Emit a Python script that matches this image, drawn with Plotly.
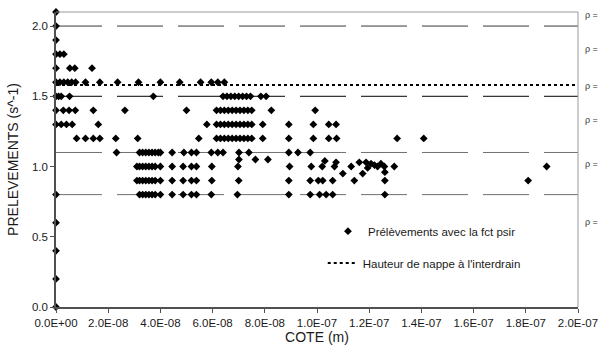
import plotly.graph_objects as go

# ------------ data (x in units of 1e-8 m) ------------
row_210 = [0.0]
row_200 = [0.0]
row_190 = [0.0]
row_180 = [0.0, 0.15, 0.3]
row_170 = [0.0, 0.53, 0.72, 1.38]
row_160 = [0.0, 0.15, 0.3, 0.45, 0.6, 0.75, 1.13, 1.68, 2.36, 3.16, 4.0, 4.74, 5.54, 5.95, 6.2, 6.45]
row_150 = [0.0, 0.1, 0.2, 0.52, 3.73, 6.4, 6.55, 6.7, 6.85, 7.0, 7.15, 7.3, 7.45, 7.85, 8.05]
row_140 = [0.0, 0.28, 0.5, 0.74, 1.43, 2.64, 5.0, 6.15, 6.3, 6.45, 6.6, 6.75, 6.9, 7.05, 7.2, 7.35, 7.5, 8.25, 9.93]
row_130 = [0.0, 0.2, 0.4, 0.62, 1.62, 5.78, 6.15, 6.3, 6.45, 6.6, 6.75, 6.9, 7.05, 7.2, 7.35, 7.5, 7.92, 8.92, 9.86, 10.45, 10.73]
row_120 = [0.79, 1.13, 1.43, 1.68, 2.29, 3.13, 5.47, 6.15, 6.3, 6.45, 6.6, 6.75, 6.9, 7.05, 7.2, 7.35, 7.5,
           7.92, 8.92, 9.86, 10.45, 10.75, 13.07, 14.09]
row_110 = [2.32, 3.2, 3.32, 3.44, 3.56, 3.68, 3.8, 3.92, 4.0, 4.45, 4.9, 5.19, 5.38, 5.95, 6.2, 6.4, 7.01, 7.39,
           8.92, 9.27, 9.74]
row_105 = [7.01, 7.64, 8.12]
row_100 = [3.1, 3.2, 3.32, 3.44, 3.56, 3.68, 3.8, 4.0, 4.45, 4.87, 5.19, 5.38, 5.97, 6.97, 8.95, 9.78]
row_090 = [3.1, 3.2, 3.32, 3.44, 3.56, 3.68, 3.8, 4.0, 4.45, 4.87, 5.19, 5.38, 5.97, 7.0, 8.92, 9.74, 10.05,
           10.22, 10.6, 11.43, 12.6, 18.09]
row_080 = [0.0, 3.2, 3.32, 3.44, 3.56, 3.68, 3.8, 4.0, 4.45, 4.87, 5.19, 5.38, 5.95, 6.95, 8.92, 9.74, 10.1,
           10.35, 10.6, 12.6]
row_060 = [0.0]
row_040 = [0.0]
row_020 = [0.0]
row_000 = [0.0]

# scattered points near 1.0 on the right
cluster_x = [10.2, 10.3, 10.67, 10.73, 10.99, 11.31, 11.62, 11.75, 11.88, 11.94, 12.07, 12.2, 12.32, 12.45,
             12.58, 12.6, 12.96, 18.8]
cluster_y = [1.0, 1.04, 1.0, 1.03, 0.95, 1.0, 1.03, 0.95, 1.03, 0.99, 1.02, 1.01, 1.0, 1.02, 1.0, 0.96, 1.0, 1.0]

rows = {2.1: row_210, 2.0: row_200, 1.9: row_190, 1.8: row_180, 1.7: row_170, 1.6: row_160, 1.5: row_150,
        1.4: row_140, 1.3: row_130, 1.2: row_120, 1.1: row_110, 1.05: row_105, 1.0: row_100, 0.9: row_090,
        0.8: row_080, 0.6: row_060, 0.4: row_040, 0.2: row_020, 0.0: row_000}

nappe_level = 1.58
ref_levels = [2.0, 1.5, 1.1, 0.8]
ref_colors = ['#3a3a3a', '#000000', '#707070', '#707070']

rho_labels = ['ρ =', 'ρ =', 'ρ =', 'ρ =', 'ρ =', 'ρ =']
rho_y = [2.076, 1.835, 1.572, 1.33, 1.018, 0.606]

x_ticks = [0, 2e-8, 4e-8, 6e-8, 8e-8, 1e-7, 1.2e-7, 1.4e-7, 1.6e-7, 1.8e-7, 2e-7]
x_ticktext = ['0.0E+00', '2.0E-08', '4.0E-08', '6.0E-08', '8.0E-08', '1.0E-07', '1.2E-07', '1.4E-07',
              '1.6E-07', '1.8E-07', '2.0E-07']

# ------------ build ------------
xs, ys = [], []
for yv, row in rows.items():
    for xv in row:
        xs.append(xv * 1e-8)
        ys.append(yv)
for xv, yv in zip(cluster_x, cluster_y):
    xs.append(xv * 1e-8)
    ys.append(yv)

FONT = 'Liberation Sans, Arial, sans-serif'

fig = go.Figure()

for lvl, col in zip(ref_levels, ref_colors):
    fig.add_hline(y=lvl, line=dict(color=col, width=1, dash='46px,15px'), layer='below')

fig.add_trace(go.Scatter(
    x=xs, y=ys, mode='markers', name='Prélèvements avec la fct psir',
    marker=dict(symbol='diamond', size=6, color='black'),
    cliponaxis=False, legend='legend'))

fig.add_trace(go.Scatter(
    x=[0, 2e-7], y=[nappe_level, nappe_level], mode='lines', name="Hauteur de nappe à l'interdrain",
    line=dict(color='black', width=2, dash='3px,3px'), legend='legend2'))

# top / right borders
fig.add_shape(type='line', xref='paper', yref='paper', x0=0, x1=1, y0=1, y1=1,
              line=dict(color='#9a9a9a', width=1))
fig.add_shape(type='line', xref='paper', yref='paper', x0=1, x1=1, y0=0, y1=1,
              line=dict(color='#9a9a9a', width=1))

for txt, yv in zip(rho_labels, rho_y):
    fig.add_annotation(x=1.0096, xref='paper', y=yv, yref='y', text=txt, showarrow=False,
                       xanchor='left', yanchor='middle', font=dict(size=9, color='#333', family=FONT))

fig.update_layout(
    width=600, height=352,
    margin=dict(l=56, r=22, t=12, b=45),
    paper_bgcolor='white', plot_bgcolor='white',
    font=dict(family=FONT, size=11.5, color='#1a1a1a'),
    showlegend=True,
    legend=dict(x=0.521, y=0.257, xanchor='left', yanchor='middle', bgcolor='rgba(0,0,0,0)',
                font=dict(size=11.5)),
    legend2=dict(x=0.511, y=0.149, xanchor='left', yanchor='middle', bgcolor='rgba(0,0,0,0)',
                 font=dict(size=11.5)),
)

fig.update_xaxes(range=[0, 2e-7], tickvals=x_ticks, ticktext=x_ticktext, showgrid=False, zeroline=False,
                 showline=True, linecolor='#505050', linewidth=1.5, ticks='outside', ticklen=4,
                 tickcolor='#505050', automargin=False, title=dict(text='COTE (m)', standoff=3))
fig.update_yaxes(range=[0, 2.1], tickvals=[0, 0.5, 1.0, 1.5, 2.0], tickformat='.1f', showgrid=False,
                 zeroline=False, showline=True, linecolor='#505050', linewidth=1.5, ticks='outside',
                 ticklen=4, tickcolor='#505050', automargin=False,
                 title=dict(text='PRELEVEMENTS (s^-1)', standoff=10))

# drop the default body margin so the 600x352 figure fills the window exactly
fig.write_html("out.html", config={'displayModeBar': False},
               post_script="document.body.style.margin='0';document.body.style.overflow='hidden';")
